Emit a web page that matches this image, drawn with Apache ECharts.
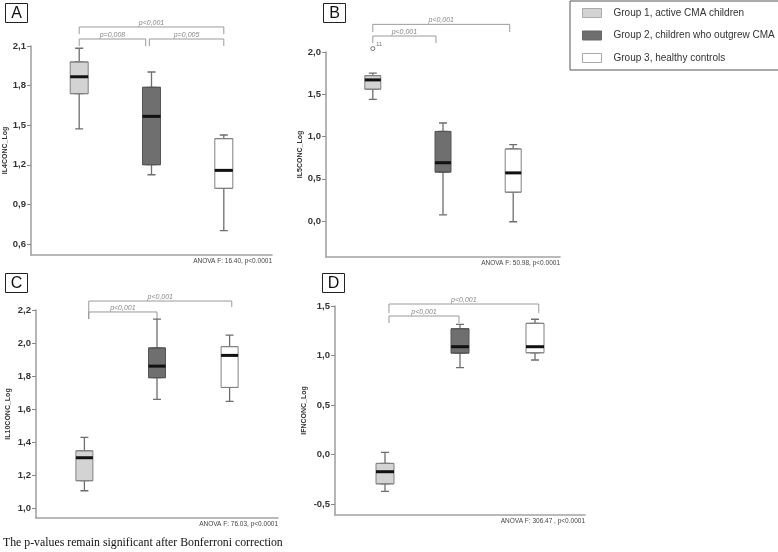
<!DOCTYPE html>
<html>
<head>
<meta charset="utf-8">
<script src="https://cdn.jsdelivr.net/npm/echarts@6/dist/echarts.min.js"></script>
<style>
  html, body { margin: 0; padding: 0; background: #fff; }
  #main { width: 778px; height: 552px; }
</style>
</head>
<body>
<div id="main"></div>
<script>
// groups (legend)
var groupNames = ['Group 1, active CMA children', 'Group 2, children who outgrew CMA', 'Group 3, healthy controls'];
var groupX = [1, 2, 3];

// box stats per group: [min, Q1, median, Q3, max]
var il4Stats = [[1.473, 1.739, 1.867, 1.979, 2.083], [1.125, 1.201, 1.567, 1.787, 1.903], [0.701, 1.022, 1.158, 1.398, 1.426]];
var il5Stats = [[1.44, 1.56, 1.67, 1.72, 1.75], [0.073, 0.58, 0.69, 1.06, 1.16], [-0.008, 0.342, 0.57, 0.853, 0.904]];
var il10Stats = [[1.105, 1.166, 1.305, 1.347, 1.428], [1.659, 1.79, 1.86, 1.97, 2.145], [1.647, 1.731, 1.925, 1.978, 2.048]];
var ifnStats = [[-0.372, -0.295, -0.173, -0.089, 0.022], [0.877, 1.025, 1.089, 1.27, 1.315], [0.955, 1.028, 1.089, 1.325, 1.366]];
var il5Outliers = [[1, 2.04, '11']];

// y tick labels
var il4Ticks = [0.6, 0.9, 1.2, 1.5, 1.8, 2.1];
var il5Ticks = [0, 0.5, 1, 1.5, 2];
var il10Ticks = [1.0, 1.2, 1.4, 1.6, 1.8, 2.0, 2.2];
var ifnTicks = [-0.5, 0, 0.5, 1, 1.5];

// significance brackets: [fromX, toX, lineY, leftLegEnd, rightLegEnd, text]
var il4Brackets = [[1, 3, 2.244, 2.19, 2.19, 'p<0,001'], [1, 1.92, 2.153, 2.10, 2.10, 'p=0,008'], [1.97, 3, 2.153, 2.10, 2.10, 'p=0,005']];
var il5Brackets = [[1, 2.95, 2.327, 2.236, 2.236, 'p<0,001'], [1, 1.9, 2.189, 2.106, 2.106, 'p<0,001']];
var il10Brackets = [[1.06, 3.03, 2.2545, 2.145, 2.218, 'p<0,001'], [1.06, 2.0, 2.188, 2.145, 2.145, 'p<0,001']];
var ifnBrackets = [[1.053, 3.05, 1.52, 1.429, 1.429, 'p<0,001'], [1.053, 1.987, 1.399, 1.328, 1.328, 'p<0,001']];

var panels = [
  { tag: 'A', yName: 'IL4CONC_Log', stats: il4Stats, ticks: il4Ticks, min: 0.517, max: 2.1, anova: 'ANOVA F: 16.40, p<0.0001', brackets: il4Brackets, box: [31, 46, 272, 255], nameGap: 21, bw: 18, tagPos: [5, 3] },
  { tag: 'B', yName: 'IL5CONC_Log', stats: il5Stats, ticks: il5Ticks, min: -0.425, max: 2.0, anova: 'ANOVA F: 50.98, p<0.0001', brackets: il5Brackets, box: [326, 52, 560, 257], nameGap: 22, bw: 16, tagPos: [323, 3] },
  { tag: 'C', yName: 'IL10CONC_Log', stats: il10Stats, ticks: il10Ticks, min: 0.94, max: 2.2, anova: 'ANOVA F: 76.03, p<0.0001', brackets: il10Brackets, box: [36, 310, 278, 518], nameGap: 24, bw: 17, tagPos: [5, 273] },
  { tag: 'D', yName: 'IFNCONC_Log', stats: ifnStats, ticks: ifnTicks, min: -0.61, max: 1.5, anova: 'ANOVA F: 306.47 , p<0.0001', brackets: ifnBrackets, box: [335, 306, 585, 515], nameGap: 27, bw: 18, tagPos: [322, 273] }
];

var fills = ['#d3d3d3', '#6f6f6f', '#ffffff'];
var borders = ['#808080', '#555555', '#808080'];
var FONT = 'Liberation Sans, Arial, sans-serif';

var chart = echarts.init(document.getElementById('main'), null, { renderer: 'canvas' });

var grids = [], xAxes = [], yAxes = [], series = [];
panels.forEach(function (p, pi) {
  grids.push({ left: p.box[0], top: p.box[1], width: p.box[2] - p.box[0], height: p.box[3] - p.box[1] });
  // main x axis + one hidden x axis per group (boxplots on one axis would be offset)
  for (var k = 0; k < 4; k++) {
    xAxes.push({
      type: 'value', gridIndex: pi, min: 1 / 3, max: 11 / 3, show: k === 0,
      axisLine: { show: true, onZero: false, lineStyle: { color: '#a3a3a3', width: 1.6 } },
      axisTick: { show: false }, axisLabel: { show: false }, splitLine: { show: false }
    });
  }
  yAxes.push({
    type: 'value', gridIndex: pi, min: p.min, max: p.max,
    name: p.yName, nameLocation: 'middle', nameGap: p.nameGap, nameRotate: 90,
    nameTextStyle: { fontSize: 7, fontWeight: 'bold', color: '#333', fontFamily: FONT },
    axisLine: { show: true, onZero: false, lineStyle: { color: '#a3a3a3', width: 1.6 } },
    axisTick: { show: true, length: 4, customValues: p.ticks, lineStyle: { color: '#888' } },
    axisLabel: {
      customValues: p.ticks, margin: 5, fontSize: 9.5, fontWeight: 'bold', color: '#333', fontFamily: FONT,
      formatter: function (v) { return v.toFixed(1).replace('.', ','); }
    },
    splitLine: { show: false }
  });
  // whiskers with short caps
  series.push({
    type: 'boxplot', xAxisIndex: pi * 4, yAxisIndex: pi, boxWidth: [8, 8], silent: true, z: 2,
    itemStyle: { color: 'rgba(0,0,0,0)', borderColor: '#6e6e6e', borderWidth: 1.3 },
    data: p.stats.map(function (s, g) { return [groupX[g]].concat(s); })
  });
  // boxes, one series per group
  p.stats.forEach(function (s, g) {
    series.push({
      type: 'boxplot', name: groupNames[g], xAxisIndex: pi * 4 + g + 1, yAxisIndex: pi,
      boxWidth: [p.bw, p.bw], silent: true, z: 3,
      itemStyle: { color: fills[g], borderColor: borders[g], borderWidth: 1 },
      data: [[groupX[g], s[1], s[1], s[2], s[3], s[3]]]
    });
  });
  // thick median line
  series.push({
    type: 'scatter', xAxisIndex: pi * 4, yAxisIndex: pi, symbol: 'rect', symbolSize: [p.bw, 3],
    silent: true, z: 4, itemStyle: { color: '#111', opacity: 1 },
    data: p.stats.map(function (s, g) { return [groupX[g], s[2]]; })
  });
  if (p.tag === 'B') {
    series.push({
      type: 'scatter', xAxisIndex: pi * 4, yAxisIndex: pi, symbol: 'circle', symbolSize: 4, clip: false,
      silent: true, z: 4, itemStyle: { color: '#fff', borderColor: '#555', borderWidth: 1 },
      label: { show: true, position: 'right', distance: 1, offset: [0, -4], fontSize: 5.5, color: '#444', fontFamily: FONT,
        formatter: function (d) { return d.value[2]; } },
      data: il5Outliers
    });
  }
});

chart.setOption({
  animation: false,
  backgroundColor: '#fff',
  grid: grids,
  xAxis: xAxes,
  yAxis: yAxes,
  legend: {
    orient: 'vertical', left: 570, top: 1, padding: [7, 5, 7, 12],
    borderColor: '#555', borderWidth: 1, itemWidth: 19, itemHeight: 9, itemGap: 12.5,
    icon: 'rect', selectedMode: false,
    textStyle: { fontSize: 10, color: '#333', fontFamily: FONT, padding: [0, 0, 0, 7] },
    data: groupNames.map(function (n, g) {
      return { name: n, itemStyle: { color: fills[g], borderColor: g === 1 ? '#666' : '#aaa', borderWidth: 1 } };
    })
  },
  series: series
});

// annotations: panel tags, brackets, ANOVA notes, caption
var els = [];
panels.forEach(function (p, pi) {
  els.push({
    type: 'rect', shape: { x: p.tagPos[0] + 0.5, y: p.tagPos[1] + 0.5, width: 22, height: 19 },
    style: { fill: '#fff', stroke: '#222', lineWidth: 1 }
  });
  els.push({
    type: 'text', style: { text: p.tag, x: p.tagPos[0] + 11.5, y: p.tagPos[1] + 10.5, align: 'center', verticalAlign: 'middle',
      fontSize: 16, fontFamily: FONT, fill: '#111' }
  });
  p.brackets.forEach(function (b) {
    var f = { xAxisIndex: pi * 4, yAxisIndex: pi };
    var a = chart.convertToPixel(f, [b[0], b[2]]);
    var c = chart.convertToPixel(f, [b[1], b[2]]);
    var l1 = chart.convertToPixel(f, [b[0], b[3]]);
    var l2 = chart.convertToPixel(f, [b[1], b[4]]);
    els.push({
      type: 'polyline', shape: { points: [[a[0], l1[1]], [a[0], a[1]], [c[0], c[1]], [c[0], l2[1]]] },
      style: { stroke: '#9a9a9a', lineWidth: 1, fill: null }
    });
    els.push({
      type: 'text', style: { text: b[5], x: (a[0] + c[0]) / 2, y: a[1] - 0.5, align: 'center', verticalAlign: 'bottom',
        fontSize: 7, fontStyle: 'italic', fontFamily: FONT, fill: '#888' }
    });
  });
  els.push({
    type: 'text', style: { text: p.anova, x: p.box[2], y: p.box[3] + 6, align: 'right', verticalAlign: 'middle',
      fontSize: 6.5, fontFamily: FONT, fill: '#444' }
  });
});
els.push({
  type: 'text', style: { text: 'The p-values remain significant after Bonferroni correction', x: 3, y: 543,
    verticalAlign: 'middle', fontSize: 11.8, fontFamily: 'Liberation Serif, Times New Roman, serif', fill: '#111' }
});
chart.setOption({ graphic: { elements: els } });
</script>
</body>
</html>
